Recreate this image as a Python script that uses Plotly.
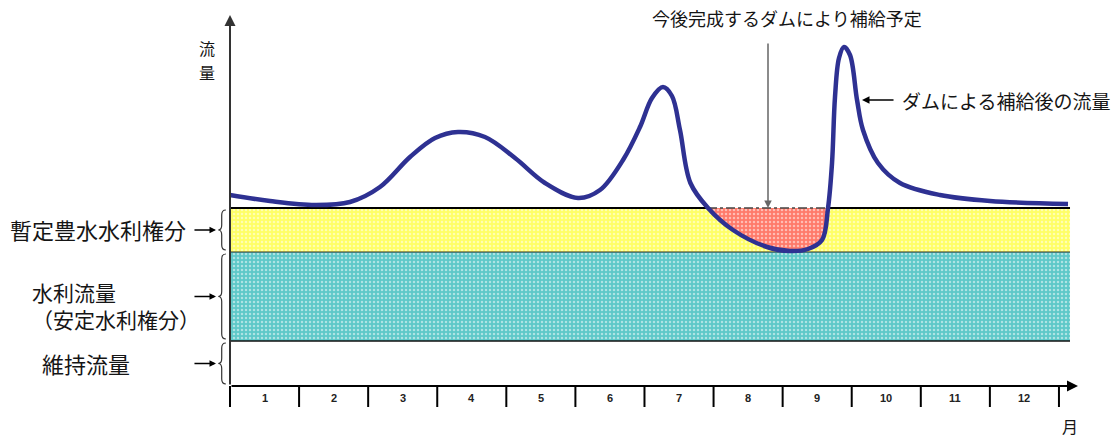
import plotly.graph_objects as go

# ---------------- data ----------------
months = list(range(1, 13))
month_labels = [str(m) for m in months]
month_edges = list(range(0, 13))

# flow after dam supply (x in months from Jan 1st, y in flow units)
flow_x = [0.0, 0.579, 1.230, 1.737, 2.171, 2.606, 2.968, 3.300, 3.691, 4.126, 4.560,
          5.038, 5.356, 5.689, 5.935, 6.109, 6.268, 6.398, 6.514, 6.665, 6.920,
          7.281, 7.774, 8.107, 8.367, 8.570, 8.657, 8.715, 8.758, 8.816, 8.888,
          8.975, 9.077, 9.163, 9.380, 9.699, 10.278, 11.002, 12.131]
flow_y = [191, 185, 181, 184, 199, 229, 248, 254, 249, 228, 203,
          188, 196, 226, 259, 288, 299, 290, 256, 203, 178,
          156, 139, 135, 137, 146, 178, 223, 289, 328, 339,
          331, 286, 256, 223, 203, 191, 185, 182]

maint_top = 45       # 維持流量
stable_top = 134     # 水利流量（安定水利権分）
prov_top = 178       # 暫定豊水水利権分
band_end = 12.16

deficit_start = 6.920
deficit_end = 8.657

BLUE = "#2E3192"
YELLOW = "#FFFF66"
TEAL = "#5EC8C8"
RED = "#FF7A6A"
JP = "Noto Sans CJK JP"
TXT = "#151515"

fig = go.Figure()

def band(y0, y1, color):
    fig.add_trace(go.Scatter(
        x=[0, band_end, band_end, 0, 0], y=[y0, y0, y1, y1, y0],
        mode="lines", line=dict(width=0), fill="toself", fillcolor=color,
        fillpattern=dict(shape=".", fgcolor="white", bgcolor=color, size=4, solidity=0.3),
        hoverinfo="skip", showlegend=False))

band(maint_top, stable_top, TEAL)
band(stable_top, prov_top, YELLOW)

# deficit region (to be supplied by future dam)
seg = [(x, y) for x, y in zip(flow_x, flow_y) if deficit_start <= x <= deficit_end]
fig.add_trace(go.Scatter(x=[deficit_start, deficit_end], y=[prov_top, prov_top],
                         mode="lines", line=dict(width=0), hoverinfo="skip", showlegend=False))
fig.add_trace(go.Scatter(x=[p[0] for p in seg], y=[p[1] for p in seg],
                         mode="lines", line=dict(width=0, shape="spline"),
                         fill="tonexty", fillcolor=RED,
                         fillpattern=dict(shape=".", fgcolor="white", bgcolor=RED, size=4, solidity=0.3),
                         hoverinfo="skip", showlegend=False))

# band border lines
def hline(x0, x1, y, color, width, dash="solid"):
    fig.add_trace(go.Scatter(x=[x0, x1], y=[y, y], mode="lines",
                             line=dict(color=color, width=width, dash=dash),
                             hoverinfo="skip", showlegend=False))

hline(0, band_end, maint_top, "#111111", 1.5)
hline(0, band_end, stable_top, "#333333", 1)
hline(0, deficit_start, prov_top, "#000000", 2)
hline(deficit_start, deficit_end, prov_top, "#444444", 1.5, "dashdot")
hline(deficit_end, band_end, prov_top, "#000000", 2)

# flow curve
fig.add_trace(go.Scatter(x=flow_x, y=flow_y, mode="lines",
                         line=dict(color=BLUE, width=4.5, shape="spline", smoothing=1.0),
                         hoverinfo="skip", showlegend=False))

# ---------------- axes (drawn) ----------------
ann = []
def arrow(x, y, ax, ay, color="#000000", width=1.5, head=2, size=1):
    ann.append(dict(x=x, y=y, ax=ax, ay=ay, xref="x", yref="y", axref="x", ayref="y",
                    text="", showarrow=True, arrowhead=head, arrowsize=size,
                    arrowwidth=width, arrowcolor=color))

arrow(0, 371, 0, 0, color="#333333", width=2, head=2, size=1.1)
arrow(12.276, 0, 0, 0, color="#000000", width=2, head=2, size=1.1)

shapes = []
for e in month_edges:
    shapes.append(dict(type="line", xref="x", yref="y", x0=e, x1=e, y0=0, y1=-21,
                       line=dict(color="black", width=2)))

for m, lab in zip(months, month_labels):
    ann.append(dict(x=m - 0.5, y=-12, xref="x", yref="y", text="<b>" + lab + "</b>",
                    showarrow=False,
                    font=dict(family="Liberation Sans", size=11, color="#222222")))

def text(x, y, s, size, xanchor="center", align="center"):
    ann.append(dict(x=x, y=y, xref="x", yref="y", text=s, showarrow=False,
                    xanchor=xanchor, yanchor="middle", align=align,
                    font=dict(family=JP, size=size, color=TXT)))

text(-0.333, 338, "流", 16)
text(-0.333, 314, "量", 16)
text(12.16, -40, "月", 16)

# left labels with braces and arrows
def brace(y0, y1, ymid):
    xr, xm, xt, r = -0.06, -0.12, -0.17, 5
    return (f"M {xr},{y1} Q {xm},{y1} {xm},{y1 - r} L {xm},{ymid + r} "
            f"Q {xm},{ymid} {xt},{ymid} Q {xm},{ymid} {xm},{ymid - r} "
            f"L {xm},{y0 + r} Q {xm},{y0} {xr},{y0}")

for (b0, b1) in [(stable_top, prov_top), (maint_top, stable_top), (0, maint_top)]:
    mid = (b0 + b1) / 2
    shapes.append(dict(type="path", xref="x", yref="y", path=brace(b0 + 2, b1 - 2, mid),
                       line=dict(color="#333333", width=1.2)))
    arrow(-0.203, mid, -0.536, mid, width=1.3, head=2, size=1)

text(-0.608, 157, "暫定豊水水利権分", 22, xanchor="right")
text(-2.90, 81, "水利流量<br>（安定水利権分）", 21, xanchor="left", align="left")
text(-2.75, 23, "維持流量", 22, xanchor="left")

# annotations on the chart
text(8.063, 368, "今後完成するダムにより補給予定", 18)
arrow(7.788, prov_top, 7.788, 344, color="#666666", width=1.5, head=2, size=1)

text(9.699, 286, "ダムによる補給後の流量", 19, xanchor="left")
arrow(9.149, 286, 9.627, 286, width=1.5, head=2, size=1)

fig.update_layout(
    width=1112, height=439,
    margin=dict(l=0, r=0, t=0, b=0),
    paper_bgcolor="white", plot_bgcolor="white",
    xaxis=dict(range=[-230 / 69.08, (1112 - 230) / 69.08], visible=False, fixedrange=True),
    yaxis=dict(range=[-53, 386], visible=False, fixedrange=True),
    annotations=ann, shapes=shapes, showlegend=False,
)

fig.write_html("out.html", config={"displayModeBar": False},
               post_script="document.body.style.margin='0px';document.body.style.overflow='hidden';")
